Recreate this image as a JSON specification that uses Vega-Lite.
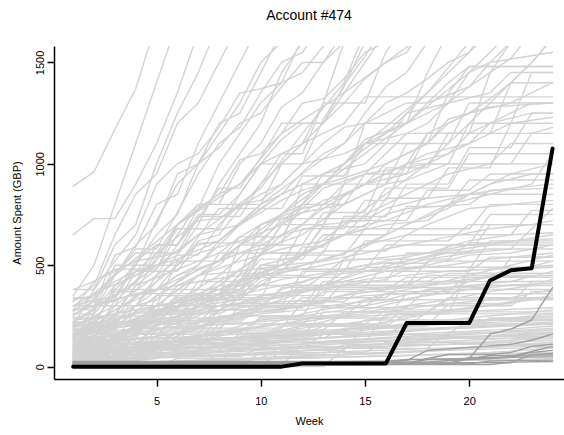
{
"$schema": "https://vega.github.io/schema/vega-lite/v6.json",
"autosize": {"type": "none"},
"width": 510,
"height": 333,
"padding": {"left": 54, "top": 46, "right": 0, "bottom": 56},
"background": "white",
"config": {"view": {"stroke": null}, "font": "Liberation Sans"},
"title": {"text": "Account #474", "fontSize": 14, "fontWeight": "normal", "font": "Liberation Sans", "color": "black", "anchor": "middle", "baseline": "alphabetic", "offset": 12},
"datasets": {
"light": [
{"s":1,"w":1,"v":890},{"s":1,"w":2,"v":960},{"s":1,"w":3,"v":1170},{"s":1,"w":4,"v":1370},{"s":1,"w":5,"v":1700},
{"s":2,"w":1,"v":650},{"s":2,"w":2,"v":730},{"s":2,"w":3,"v":730},{"s":2,"w":4,"v":900},{"s":2,"w":5,"v":1100},{"s":2,"w":6,"v":1350},{"s":2,"w":7,"v":1650},
{"s":3,"w":1,"v":350},{"s":3,"w":2,"v":500},{"s":3,"w":3,"v":800},{"s":3,"w":4,"v":1100},{"s":3,"w":5,"v":1400},{"s":3,"w":6,"v":1700},
{"s":4,"w":1,"v":200},{"s":4,"w":2,"v":380},{"s":4,"w":3,"v":600},{"s":4,"w":4,"v":700},{"s":4,"w":5,"v":1000},{"s":4,"w":6,"v":1250},{"s":4,"w":7,"v":1450},{"s":4,"w":8,"v":1700},
{"s":5,"w":1,"v":120},{"s":5,"w":2,"v":300},{"s":5,"w":3,"v":550},{"s":5,"w":4,"v":590},{"s":5,"w":5,"v":800},{"s":5,"w":6,"v":850},{"s":5,"w":7,"v":1100},{"s":5,"w":8,"v":1300},{"s":5,"w":9,"v":1500},{"s":5,"w":10,"v":1700},
{"s":6,"w":1,"v":300},{"s":6,"w":2,"v":330},{"s":6,"w":3,"v":450},{"s":6,"w":4,"v":600},{"s":6,"w":5,"v":700},{"s":6,"w":6,"v":950},{"s":6,"w":7,"v":1000},{"s":6,"w":8,"v":1200},{"s":6,"w":9,"v":1250},{"s":6,"w":10,"v":1450},{"s":6,"w":11,"v":1650},
{"s":7,"w":1,"v":50},{"s":7,"w":2,"v":200},{"s":7,"w":3,"v":400},{"s":7,"w":4,"v":500},{"s":7,"w":5,"v":720},{"s":7,"w":6,"v":900},{"s":7,"w":7,"v":1000},{"s":7,"w":8,"v":1150},{"s":7,"w":9,"v":1300},{"s":7,"w":10,"v":1500},{"s":7,"w":11,"v":1600},
{"s":8,"w":1,"v":380},{"s":8,"w":2,"v":380},{"s":8,"w":3,"v":520},{"s":8,"w":4,"v":650},{"s":8,"w":5,"v":900},{"s":8,"w":6,"v":1000},{"s":8,"w":7,"v":1050},{"s":8,"w":8,"v":1180},{"s":8,"w":9,"v":1350},{"s":8,"w":10,"v":1370},{"s":8,"w":11,"v":1400},{"s":8,"w":12,"v":1620},
{"s":9,"w":1,"v":150},{"s":9,"w":3,"v":250},{"s":9,"w":4,"v":400},{"s":9,"w":5,"v":480},{"s":9,"w":6,"v":700},{"s":9,"w":7,"v":800},{"s":9,"w":8,"v":800},{"s":9,"w":9,"v":1000},{"s":9,"w":10,"v":1100},{"s":9,"w":11,"v":1280},{"s":9,"w":12,"v":1350},{"s":9,"w":13,"v":1500},{"s":9,"w":14,"v":1650},
{"s":10,"w":1,"v":80},{"s":10,"w":2,"v":150},{"s":10,"w":3,"v":260},{"s":10,"w":4,"v":300},{"s":10,"w":5,"v":420},{"s":10,"w":6,"v":550},{"s":10,"w":7,"v":700},{"s":10,"w":8,"v":900},{"s":10,"w":9,"v":1050},{"s":10,"w":10,"v":1200},{"s":10,"w":11,"v":1450},{"s":10,"w":12,"v":1600},
{"s":11,"w":1,"v":100},{"s":11,"w":2,"v":180},{"s":11,"w":3,"v":200},{"s":11,"w":4,"v":350},{"s":11,"w":5,"v":380},{"s":11,"w":6,"v":500},{"s":11,"w":7,"v":620},{"s":11,"w":8,"v":650},{"s":11,"w":9,"v":780},{"s":11,"w":10,"v":900},{"s":11,"w":11,"v":1000},{"s":11,"w":12,"v":1100},{"s":11,"w":13,"v":1200},{"s":11,"w":14,"v":1350},{"s":11,"w":15,"v":1500},{"s":11,"w":16,"v":1650},
{"s":12,"w":1,"v":250},{"s":12,"w":2,"v":330},{"s":12,"w":3,"v":340},{"s":12,"w":4,"v":520},{"s":12,"w":5,"v":600},{"s":12,"w":6,"v":600},{"s":12,"w":7,"v":780},{"s":12,"w":8,"v":850},{"s":12,"w":9,"v":1020},{"s":12,"w":10,"v":1050},{"s":12,"w":11,"v":1150},{"s":12,"w":12,"v":1300},{"s":12,"w":13,"v":1320},{"s":12,"w":14,"v":1420},{"s":12,"w":15,"v":1550},{"s":12,"w":16,"v":1600},
{"s":13,"w":1,"v":60},{"s":13,"w":2,"v":120},{"s":13,"w":3,"v":220},{"s":13,"w":4,"v":300},{"s":13,"w":5,"v":330},{"s":13,"w":6,"v":420},{"s":13,"w":7,"v":500},{"s":13,"w":8,"v":620},{"s":13,"w":9,"v":700},{"s":13,"w":10,"v":780},{"s":13,"w":11,"v":850},{"s":13,"w":12,"v":960},{"s":13,"w":13,"v":1050},{"s":13,"w":14,"v":1100},{"s":13,"w":15,"v":1250},{"s":13,"w":16,"v":1380},{"s":13,"w":17,"v":1450},{"s":13,"w":18,"v":1600},
{"s":14,"w":1,"v":180},{"s":14,"w":3,"v":180},{"s":14,"w":4,"v":300},{"s":14,"w":5,"v":450},{"s":14,"w":6,"v":600},{"s":14,"w":7,"v":750},{"s":14,"w":8,"v":750},{"s":14,"w":9,"v":850},{"s":14,"w":10,"v":1000},{"s":14,"w":11,"v":1120},{"s":14,"w":12,"v":1200},{"s":14,"w":13,"v":1200},{"s":14,"w":14,"v":1300},{"s":14,"w":15,"v":1420},{"s":14,"w":16,"v":1500},{"s":14,"w":17,"v":1550},{"s":14,"w":18,"v":1700},
{"s":15,"w":1,"v":20},{"s":15,"w":2,"v":80},{"s":15,"w":3,"v":150},{"s":15,"w":4,"v":200},{"s":15,"w":5,"v":300},{"s":15,"w":6,"v":380},{"s":15,"w":7,"v":450},{"s":15,"w":8,"v":500},{"s":15,"w":9,"v":600},{"s":15,"w":10,"v":650},{"s":15,"w":11,"v":750},{"s":15,"w":12,"v":850},{"s":15,"w":13,"v":900},{"s":15,"w":14,"v":1000},{"s":15,"w":15,"v":1100},{"s":15,"w":16,"v":1150},{"s":15,"w":17,"v":1250},{"s":15,"w":18,"v":1350},{"s":15,"w":19,"v":1450},{"s":15,"w":20,"v":1550},{"s":15,"w":21,"v":1650},
{"s":16,"w":1,"v":220},{"s":16,"w":2,"v":280},{"s":16,"w":3,"v":400},{"s":16,"w":4,"v":450},{"s":16,"w":5,"v":500},{"s":16,"w":6,"v":550},{"s":16,"w":7,"v":550},{"s":16,"w":8,"v":700},{"s":16,"w":9,"v":800},{"s":16,"w":10,"v":820},{"s":16,"w":11,"v":900},{"s":16,"w":12,"v":1000},{"s":16,"w":13,"v":1100},{"s":16,"w":14,"v":1180},{"s":16,"w":15,"v":1200},{"s":16,"w":16,"v":1300},{"s":16,"w":17,"v":1350},{"s":16,"w":18,"v":1420},{"s":16,"w":19,"v":1500},{"s":16,"w":20,"v":1550},{"s":16,"w":21,"v":1700},
{"s":17,"w":1,"v":0},{"s":17,"w":2,"v":50},{"s":17,"w":3,"v":100},{"s":17,"w":4,"v":200},{"s":17,"w":5,"v":220},{"s":17,"w":6,"v":300},{"s":17,"w":7,"v":350},{"s":17,"w":8,"v":420},{"s":17,"w":9,"v":480},{"s":17,"w":10,"v":550},{"s":17,"w":11,"v":650},{"s":17,"w":12,"v":700},{"s":17,"w":13,"v":800},{"s":17,"w":14,"v":900},{"s":17,"w":15,"v":950},{"s":17,"w":16,"v":1050},{"s":17,"w":17,"v":1150},{"s":17,"w":18,"v":1200},{"s":17,"w":19,"v":1300},{"s":17,"w":20,"v":1380},{"s":17,"w":21,"v":1450},{"s":17,"w":22,"v":1520},{"s":17,"w":23,"v":1650},
{"s":18,"w":1,"v":130},{"s":18,"w":4,"v":130},{"s":18,"w":5,"v":350},{"s":18,"w":8,"v":350},{"s":18,"w":9,"v":600},{"s":18,"w":11,"v":600},{"s":18,"w":12,"v":900},{"s":18,"w":14,"v":900},{"s":18,"w":15,"v":1200},{"s":18,"w":17,"v":1200},{"s":18,"w":18,"v":1450},{"s":18,"w":19,"v":1650},
{"s":19,"w":1,"v":280},{"s":19,"w":2,"v":420},{"s":19,"w":3,"v":480},{"s":19,"w":5,"v":480},{"s":19,"w":6,"v":650},{"s":19,"w":7,"v":800},{"s":19,"w":10,"v":800},{"s":19,"w":11,"v":1000},{"s":19,"w":12,"v":1100},{"s":19,"w":13,"v":1300},{"s":19,"w":14,"v":1600},
{"s":20,"w":1,"v":40},{"s":20,"w":2,"v":90},{"s":20,"w":4,"v":160},{"s":20,"w":6,"v":400},{"s":20,"w":7,"v":420},{"s":20,"w":9,"v":450},{"s":20,"w":10,"v":700},{"s":20,"w":11,"v":750},{"s":20,"w":12,"v":800},{"s":20,"w":13,"v":950},{"s":20,"w":15,"v":1000},{"s":20,"w":16,"v":1100},{"s":20,"w":17,"v":1250},{"s":20,"w":19,"v":1300},{"s":20,"w":20,"v":1450},{"s":20,"w":21,"v":1500},{"s":20,"w":22,"v":1600},
{"s":21,"w":1,"v":160},{"s":21,"w":2,"v":230},{"s":21,"w":3,"v":350},{"s":21,"w":4,"v":410},{"s":21,"w":5,"v":560},{"s":21,"w":6,"v":700},{"s":21,"w":7,"v":780},{"s":21,"w":8,"v":1000},{"s":21,"w":9,"v":1150},{"s":21,"w":10,"v":1300},{"s":21,"w":11,"v":1400},{"s":21,"w":12,"v":1450},{"s":21,"w":13,"v":1580},{"s":21,"w":14,"v":1700},
{"s":22,"w":1,"v":10},{"s":22,"w":2,"v":30},{"s":22,"w":3,"v":90},{"s":22,"w":5,"v":150},{"s":22,"w":6,"v":250},{"s":22,"w":7,"v":300},{"s":22,"w":9,"v":380},{"s":22,"w":10,"v":500},{"s":22,"w":12,"v":550},{"s":22,"w":13,"v":700},{"s":22,"w":14,"v":850},{"s":22,"w":15,"v":900},{"s":22,"w":16,"v":1000},{"s":22,"w":17,"v":1050},{"s":22,"w":18,"v":1100},{"s":22,"w":19,"v":1200},{"s":22,"w":20,"v":1250},{"s":22,"w":21,"v":1320},{"s":22,"w":22,"v":1400},{"s":22,"w":23,"v":1500},{"s":22,"w":24,"v":1620},
{"s":23,"w":1,"v":70},{"s":23,"w":2,"v":270},{"s":23,"w":3,"v":450},{"s":23,"w":4,"v":580},{"s":23,"w":5,"v":580},{"s":23,"w":6,"v":760},{"s":23,"w":7,"v":950},{"s":23,"w":8,"v":1100},{"s":23,"w":9,"v":1180},{"s":23,"w":10,"v":1350},{"s":23,"w":11,"v":1500},{"s":23,"w":12,"v":1550},{"s":23,"w":13,"v":1700},
{"s":24,"w":1,"v":320},{"s":24,"w":2,"v":400},{"s":24,"w":3,"v":650},{"s":24,"w":4,"v":850},{"s":24,"w":5,"v":950},{"s":24,"w":6,"v":1200},{"s":24,"w":7,"v":1300},{"s":24,"w":8,"v":1500},{"s":24,"w":9,"v":1700},
{"s":25,"w":1,"v":110},{"s":25,"w":2,"v":140},{"s":25,"w":3,"v":330},{"s":25,"w":4,"v":500},{"s":25,"w":5,"v":650},{"s":25,"w":6,"v":750},{"s":25,"w":7,"v":1000},{"s":25,"w":8,"v":1080},{"s":25,"w":9,"v":1200},{"s":25,"w":10,"v":1250},{"s":25,"w":11,"v":1380},{"s":25,"w":12,"v":1500},{"s":25,"w":13,"v":1500},{"s":25,"w":14,"v":1600},
{"s":26,"w":1,"v":200},{"s":26,"w":3,"v":300},{"s":26,"w":5,"v":450},{"s":26,"w":7,"v":600},{"s":26,"w":8,"v":620},{"s":26,"w":10,"v":800},{"s":26,"w":12,"v":950},{"s":26,"w":14,"v":1100},{"s":26,"w":15,"v":1200},{"s":26,"w":17,"v":1300},{"s":26,"w":18,"v":1300},{"s":26,"w":19,"v":1400},{"s":26,"w":20,"v":1480},{"s":26,"w":24,"v":1480},
{"s":27,"w":1,"v":90},{"s":27,"w":2,"v":150},{"s":27,"w":4,"v":300},{"s":27,"w":6,"v":450},{"s":27,"w":7,"v":500},{"s":27,"w":9,"v":700},{"s":27,"w":11,"v":850},{"s":27,"w":12,"v":900},{"s":27,"w":14,"v":1000},{"s":27,"w":16,"v":1150},{"s":27,"w":18,"v":1250},{"s":27,"w":19,"v":1300},{"s":27,"w":21,"v":1350},{"s":27,"w":22,"v":1450},{"s":27,"w":24,"v":1450},
{"s":28,"w":1,"v":300},{"s":28,"w":2,"v":360},{"s":28,"w":4,"v":450},{"s":28,"w":5,"v":520},{"s":28,"w":6,"v":700},{"s":28,"w":8,"v":850},{"s":28,"w":9,"v":900},{"s":28,"w":10,"v":1000},{"s":28,"w":11,"v":1050},{"s":28,"w":13,"v":1150},{"s":28,"w":14,"v":1200},{"s":28,"w":15,"v":1330},{"s":28,"w":24,"v":1330},
{"s":29,"w":1,"v":50},{"s":29,"w":3,"v":120},{"s":29,"w":5,"v":250},{"s":29,"w":6,"v":260},{"s":29,"w":8,"v":400},{"s":29,"w":9,"v":480},{"s":29,"w":11,"v":620},{"s":29,"w":12,"v":700},{"s":29,"w":13,"v":780},{"s":29,"w":15,"v":900},{"s":29,"w":17,"v":1000},{"s":29,"w":18,"v":1150},{"s":29,"w":20,"v":1250},{"s":29,"w":22,"v":1300},{"s":29,"w":24,"v":1400},
{"s":30,"w":1,"v":140},{"s":30,"w":2,"v":190},{"s":30,"w":4,"v":270},{"s":30,"w":5,"v":350},{"s":30,"w":7,"v":480},{"s":30,"w":9,"v":560},{"s":30,"w":10,"v":580},{"s":30,"w":12,"v":650},{"s":30,"w":14,"v":800},{"s":30,"w":16,"v":900},{"s":30,"w":17,"v":1000},{"s":30,"w":19,"v":1050},{"s":30,"w":20,"v":1150},{"s":30,"w":22,"v":1250},{"s":30,"w":23,"v":1300},{"s":30,"w":24,"v":1300},
{"s":31,"w":1,"v":30},{"s":31,"w":2,"v":100},{"s":31,"w":4,"v":180},{"s":31,"w":6,"v":320},{"s":31,"w":8,"v":400},{"s":31,"w":10,"v":550},{"s":31,"w":11,"v":700},{"s":31,"w":13,"v":820},{"s":31,"w":14,"v":850},{"s":31,"w":16,"v":950},{"s":31,"w":18,"v":1050},{"s":31,"w":20,"v":1100},{"s":31,"w":21,"v":1200},{"s":31,"w":23,"v":1250},{"s":31,"w":24,"v":1250},
{"s":32,"w":1,"v":240},{"s":32,"w":2,"v":260},{"s":32,"w":3,"v":380},{"s":32,"w":5,"v":560},{"s":32,"w":7,"v":720},{"s":32,"w":8,"v":730},{"s":32,"w":10,"v":850},{"s":32,"w":11,"v":900},{"s":32,"w":12,"v":1000},{"s":32,"w":14,"v":1050},{"s":32,"w":15,"v":1100},{"s":32,"w":17,"v":1150},{"s":32,"w":24,"v":1150},
{"s":33,"w":1,"v":0},{"s":33,"w":2,"v":40},{"s":33,"w":4,"v":100},{"s":33,"w":5,"v":200},{"s":33,"w":7,"v":300},{"s":33,"w":9,"v":420},{"s":33,"w":11,"v":500},{"s":33,"w":12,"v":560},{"s":33,"w":14,"v":650},{"s":33,"w":15,"v":750},{"s":33,"w":17,"v":850},{"s":33,"w":19,"v":950},{"s":33,"w":21,"v":1000},{"s":33,"w":22,"v":1100},{"s":33,"w":24,"v":1100},
{"s":34,"w":1,"v":180},{"s":34,"w":2,"v":200},{"s":34,"w":3,"v":280},{"s":34,"w":6,"v":430},{"s":34,"w":8,"v":520},{"s":34,"w":9,"v":600},{"s":34,"w":10,"v":700},{"s":34,"w":12,"v":780},{"s":34,"w":13,"v":880},{"s":34,"w":15,"v":950},{"s":34,"w":18,"v":1000},{"s":34,"w":24,"v":1000},
{"s":35,"w":1,"v":60},{"s":35,"w":3,"v":150},{"s":35,"w":5,"v":230},{"s":35,"w":7,"v":350},{"s":35,"w":8,"v":380},{"s":35,"w":10,"v":450},{"s":35,"w":12,"v":550},{"s":35,"w":13,"v":600},{"s":35,"w":15,"v":700},{"s":35,"w":16,"v":720},{"s":35,"w":18,"v":800},{"s":35,"w":20,"v":850},{"s":35,"w":21,"v":900},{"s":35,"w":23,"v":950},{"s":35,"w":24,"v":950},
{"s":36,"w":1,"v":100},{"s":36,"w":2,"v":120},{"s":36,"w":4,"v":200},{"s":36,"w":5,"v":280},{"s":36,"w":7,"v":320},{"s":36,"w":9,"v":400},{"s":36,"w":11,"v":480},{"s":36,"w":12,"v":500},{"s":36,"w":14,"v":560},{"s":36,"w":16,"v":650},{"s":36,"w":17,"v":700},{"s":36,"w":19,"v":780},{"s":36,"w":20,"v":850},{"s":36,"w":22,"v":880},{"s":36,"w":24,"v":900},
{"s":37,"w":1,"v":260},{"s":37,"w":2,"v":300},{"s":37,"w":3,"v":330},{"s":37,"w":5,"v":380},{"s":37,"w":6,"v":450},{"s":37,"w":8,"v":520},{"s":37,"w":10,"v":600},{"s":37,"w":11,"v":650},{"s":37,"w":13,"v":700},{"s":37,"w":15,"v":720},{"s":37,"w":16,"v":780},{"s":37,"w":18,"v":830},{"s":37,"w":20,"v":850},{"s":37,"w":24,"v":850},
{"s":38,"w":1,"v":20},{"s":38,"w":2,"v":60},{"s":38,"w":4,"v":90},{"s":38,"w":6,"v":200},{"s":38,"w":7,"v":300},{"s":38,"w":9,"v":330},{"s":38,"w":10,"v":420},{"s":38,"w":12,"v":500},{"s":38,"w":13,"v":520},{"s":38,"w":15,"v":600},{"s":38,"w":17,"v":650},{"s":38,"w":18,"v":700},{"s":38,"w":20,"v":780},{"s":38,"w":22,"v":800},{"s":38,"w":24,"v":820},
{"s":39,"w":1,"v":380},{"s":39,"w":2,"v":420},{"s":39,"w":4,"v":520},{"s":39,"w":6,"v":560},{"s":39,"w":7,"v":650},{"s":39,"w":9,"v":700},{"s":39,"w":10,"v":800},{"s":39,"w":12,"v":900},{"s":39,"w":14,"v":1000},{"s":39,"w":15,"v":1120},{"s":39,"w":17,"v":1200},{"s":39,"w":18,"v":1300},{"s":39,"w":20,"v":1380},{"s":39,"w":21,"v":1500},{"s":39,"w":24,"v":1550},
{"s":40,"w":1,"v":150},{"s":40,"w":2,"v":220},{"s":40,"w":4,"v":340},{"s":40,"w":6,"v":500},{"s":40,"w":7,"v":560},{"s":40,"w":9,"v":620},{"s":40,"w":11,"v":700},{"s":40,"w":12,"v":780},{"s":40,"w":13,"v":800},{"s":40,"w":15,"v":900},{"s":40,"w":17,"v":950},{"s":40,"w":19,"v":1050},{"s":40,"w":20,"v":1100},{"s":40,"w":22,"v":1200},{"s":40,"w":24,"v":1230},
{"s":41,"w":1,"v":80},{"s":41,"w":2,"v":110},{"s":41,"w":3,"v":200},{"s":41,"w":5,"v":280},{"s":41,"w":6,"v":300},{"s":41,"w":8,"v":380},{"s":41,"w":9,"v":430},{"s":41,"w":11,"v":500},{"s":41,"w":13,"v":600},{"s":41,"w":14,"v":650},{"s":41,"w":16,"v":700},{"s":41,"w":18,"v":720},{"s":41,"w":19,"v":800},{"s":41,"w":21,"v":850},{"s":41,"w":23,"v":900},{"s":41,"w":24,"v":1050},
{"s":42,"w":1,"v":210},{"s":42,"w":3,"v":260},{"s":42,"w":4,"v":400},{"s":42,"w":6,"v":480},{"s":42,"w":8,"v":560},{"s":42,"w":9,"v":640},{"s":42,"w":10,"v":700},{"s":42,"w":12,"v":760},{"s":42,"w":14,"v":800},{"s":42,"w":16,"v":900},{"s":42,"w":17,"v":920},{"s":42,"w":19,"v":1000},{"s":42,"w":22,"v":1000},{"s":42,"w":23,"v":1150},{"s":42,"w":24,"v":1180},
{"s":43,"w":1,"v":0},{"s":43,"w":3,"v":20},{"s":43,"w":5,"v":80},{"s":43,"w":6,"v":150},{"s":43,"w":8,"v":230},{"s":43,"w":10,"v":300},{"s":43,"w":11,"v":380},{"s":43,"w":13,"v":450},{"s":43,"w":14,"v":530},{"s":43,"w":16,"v":650},{"s":43,"w":18,"v":750},{"s":43,"w":19,"v":800},{"s":43,"w":21,"v":900},{"s":43,"w":22,"v":950},{"s":43,"w":24,"v":1000},
{"s":44,"w":1,"v":120},{"s":44,"w":2,"v":180},{"s":44,"w":5,"v":260},{"s":44,"w":6,"v":350},{"s":44,"w":7,"v":450},{"s":44,"w":9,"v":520},{"s":44,"w":11,"v":580},{"s":44,"w":13,"v":620},{"s":44,"w":15,"v":680},{"s":44,"w":16,"v":750},{"s":44,"w":17,"v":780},{"s":44,"w":20,"v":800},{"s":44,"w":21,"v":870},{"s":44,"w":24,"v":880},
{"s":45,"w":1,"v":330},{"s":45,"w":2,"v":350},{"s":45,"w":3,"v":420},{"s":45,"w":4,"v":470},{"s":45,"w":6,"v":530},{"s":45,"w":8,"v":620},{"s":45,"w":9,"v":700},{"s":45,"w":11,"v":820},{"s":45,"w":12,"v":870},{"s":45,"w":14,"v":930},{"s":45,"w":16,"v":1000},{"s":45,"w":18,"v":1100},{"s":45,"w":19,"v":1220},{"s":45,"w":21,"v":1280},{"s":45,"w":24,"v":1300},
{"s":46,"w":1,"v":40},{"s":46,"w":3,"v":80},{"s":46,"w":5,"v":130},{"s":46,"w":7,"v":200},{"s":46,"w":9,"v":270},{"s":46,"w":11,"v":330},{"s":46,"w":13,"v":400},{"s":46,"w":15,"v":470},{"s":46,"w":17,"v":520},{"s":46,"w":19,"v":570},{"s":46,"w":21,"v":600},{"s":46,"w":24,"v":650},
{"s":47,"w":1,"v":150},{"s":47,"w":2,"v":170},{"s":47,"w":4,"v":210},{"s":47,"w":6,"v":250},{"s":47,"w":8,"v":300},{"s":47,"w":10,"v":330},{"s":47,"w":12,"v":380},{"s":47,"w":14,"v":420},{"s":47,"w":16,"v":470},{"s":47,"w":18,"v":500},{"s":47,"w":20,"v":550},{"s":47,"w":22,"v":560},{"s":47,"w":24,"v":600},
{"s":48,"w":1,"v":60},{"s":48,"w":2,"v":130},{"s":48,"w":4,"v":180},{"s":48,"w":5,"v":230},{"s":48,"w":8,"v":280},{"s":48,"w":10,"v":350},{"s":48,"w":12,"v":380},{"s":48,"w":13,"v":450},{"s":48,"w":16,"v":480},{"s":48,"w":18,"v":530},{"s":48,"w":20,"v":560},{"s":48,"w":22,"v":580},{"s":48,"w":24,"v":780},
{"s":49,"w":1,"v":230},{"s":49,"w":2,"v":240},{"s":49,"w":4,"v":280},{"s":49,"w":6,"v":320},{"s":49,"w":8,"v":340},{"s":49,"w":10,"v":400},{"s":49,"w":11,"v":430},{"s":49,"w":13,"v":460},{"s":49,"w":15,"v":500},{"s":49,"w":17,"v":520},{"s":49,"w":19,"v":560},{"s":49,"w":21,"v":580},{"s":49,"w":24,"v":580},
{"s":50,"w":1,"v":10},{"s":50,"w":2,"v":30},{"s":50,"w":4,"v":60},{"s":50,"w":6,"v":100},{"s":50,"w":8,"v":150},{"s":50,"w":10,"v":200},{"s":50,"w":12,"v":260},{"s":50,"w":14,"v":300},{"s":50,"w":16,"v":360},{"s":50,"w":18,"v":400},{"s":50,"w":20,"v":450},{"s":50,"w":22,"v":500},{"s":50,"w":24,"v":550},
{"s":51,"w":1,"v":100},{"s":51,"w":3,"v":130},{"s":51,"w":5,"v":180},{"s":51,"w":7,"v":250},{"s":51,"w":8,"v":300},{"s":51,"w":10,"v":320},{"s":51,"w":12,"v":370},{"s":51,"w":14,"v":400},{"s":51,"w":16,"v":430},{"s":51,"w":17,"v":480},{"s":51,"w":19,"v":500},{"s":51,"w":21,"v":530},{"s":51,"w":24,"v":560},
{"s":52,"w":1,"v":180},{"s":52,"w":2,"v":200},{"s":52,"w":4,"v":220},{"s":52,"w":6,"v":280},{"s":52,"w":8,"v":300},{"s":52,"w":9,"v":350},{"s":52,"w":11,"v":360},{"s":52,"w":13,"v":380},{"s":52,"w":15,"v":430},{"s":52,"w":17,"v":450},{"s":52,"w":19,"v":470},{"s":52,"w":21,"v":480},{"s":52,"w":24,"v":500},
{"s":53,"w":1,"v":0},{"s":53,"w":2,"v":10},{"s":53,"w":5,"v":40},{"s":53,"w":7,"v":80},{"s":53,"w":9,"v":130},{"s":53,"w":11,"v":180},{"s":53,"w":13,"v":220},{"s":53,"w":15,"v":280},{"s":53,"w":17,"v":330},{"s":53,"w":19,"v":380},{"s":53,"w":20,"v":420},{"s":53,"w":22,"v":470},{"s":53,"w":24,"v":520},
{"s":54,"w":1,"v":90},{"s":54,"w":2,"v":100},{"s":54,"w":4,"v":140},{"s":54,"w":6,"v":160},{"s":54,"w":8,"v":220},{"s":54,"w":10,"v":260},{"s":54,"w":12,"v":280},{"s":54,"w":14,"v":310},{"s":54,"w":16,"v":330},{"s":54,"w":18,"v":380},{"s":54,"w":20,"v":400},{"s":54,"w":22,"v":420},{"s":54,"w":24,"v":470},
{"s":55,"w":1,"v":70},{"s":55,"w":3,"v":90},{"s":55,"w":5,"v":110},{"s":55,"w":7,"v":150},{"s":55,"w":9,"v":180},{"s":55,"w":11,"v":210},{"s":55,"w":13,"v":250},{"s":55,"w":15,"v":270},{"s":55,"w":17,"v":300},{"s":55,"w":19,"v":330},{"s":55,"w":21,"v":370},{"s":55,"w":23,"v":400},{"s":55,"w":24,"v":430},
{"s":56,"w":1,"v":130},{"s":56,"w":2,"v":150},{"s":56,"w":3,"v":190},{"s":56,"w":5,"v":220},{"s":56,"w":7,"v":230},{"s":56,"w":9,"v":260},{"s":56,"w":11,"v":280},{"s":56,"w":13,"v":320},{"s":56,"w":15,"v":350},{"s":56,"w":17,"v":360},{"s":56,"w":19,"v":390},{"s":56,"w":21,"v":400},{"s":56,"w":24,"v":410},
{"s":57,"w":1,"v":20},{"s":57,"w":2,"v":50},{"s":57,"w":4,"v":100},{"s":57,"w":6,"v":120},{"s":57,"w":8,"v":170},{"s":57,"w":10,"v":200},{"s":57,"w":12,"v":220},{"s":57,"w":14,"v":250},{"s":57,"w":16,"v":270},{"s":57,"w":18,"v":300},{"s":57,"w":20,"v":320},{"s":57,"w":22,"v":340},{"s":57,"w":24,"v":380},
{"s":58,"w":1,"v":50},{"s":58,"w":2,"v":60},{"s":58,"w":4,"v":80},{"s":58,"w":6,"v":110},{"s":58,"w":8,"v":130},{"s":58,"w":10,"v":160},{"s":58,"w":12,"v":190},{"s":58,"w":14,"v":210},{"s":58,"w":16,"v":240},{"s":58,"w":18,"v":260},{"s":58,"w":20,"v":290},{"s":58,"w":22,"v":320},{"s":58,"w":24,"v":350},
{"s":59,"w":1,"v":280},{"s":59,"w":2,"v":300},{"s":59,"w":4,"v":360},{"s":59,"w":6,"v":400},{"s":59,"w":7,"v":450},{"s":59,"w":9,"v":470},{"s":59,"w":11,"v":500},{"s":59,"w":13,"v":520},{"s":59,"w":15,"v":560},{"s":59,"w":17,"v":600},{"s":59,"w":19,"v":640},{"s":59,"w":21,"v":680},{"s":59,"w":23,"v":700},{"s":59,"w":24,"v":720},
{"s":60,"w":1,"v":160},{"s":60,"w":2,"v":190},{"s":60,"w":4,"v":230},{"s":60,"w":5,"v":300},{"s":60,"w":7,"v":330},{"s":60,"w":9,"v":380},{"s":60,"w":10,"v":450},{"s":60,"w":12,"v":480},{"s":60,"w":14,"v":520},{"s":60,"w":16,"v":540},{"s":60,"w":18,"v":560},{"s":60,"w":20,"v":620},{"s":60,"w":22,"v":650},{"s":60,"w":24,"v":660},
{"s":61,"w":1,"v":110},{"s":61,"w":2,"v":120},{"s":61,"w":3,"v":170},{"s":61,"w":5,"v":200},{"s":61,"w":7,"v":260},{"s":61,"w":9,"v":290},{"s":61,"w":11,"v":320},{"s":61,"w":13,"v":330},{"s":61,"w":15,"v":380},{"s":61,"w":17,"v":400},{"s":61,"w":19,"v":420},{"s":61,"w":21,"v":440},{"s":61,"w":24,"v":450},
{"s":62,"w":1,"v":30},{"s":62,"w":3,"v":50},{"s":62,"w":5,"v":90},{"s":62,"w":6,"v":140},{"s":62,"w":8,"v":170},{"s":62,"w":10,"v":230},{"s":62,"w":12,"v":250},{"s":62,"w":14,"v":280},{"s":62,"w":16,"v":320},{"s":62,"w":18,"v":350},{"s":62,"w":20,"v":380},{"s":62,"w":22,"v":400},{"s":62,"w":24,"v":400},
{"s":63,"w":1,"v":200},{"s":63,"w":2,"v":210},{"s":63,"w":4,"v":260},{"s":63,"w":6,"v":290},{"s":63,"w":8,"v":330},{"s":63,"w":10,"v":380},{"s":63,"w":12,"v":420},{"s":63,"w":14,"v":480},{"s":63,"w":16,"v":520},{"s":63,"w":18,"v":560},{"s":63,"w":20,"v":600},{"s":63,"w":22,"v":620},{"s":63,"w":24,"v":630},
{"s":64,"w":1,"v":0},{"s":64,"w":3,"v":20},{"s":64,"w":5,"v":50},{"s":64,"w":7,"v":60},{"s":64,"w":9,"v":90},{"s":64,"w":11,"v":120},{"s":64,"w":13,"v":160},{"s":64,"w":15,"v":200},{"s":64,"w":17,"v":240},{"s":64,"w":19,"v":280},{"s":64,"w":21,"v":300},{"s":64,"w":23,"v":330},{"s":64,"w":24,"v":340},
{"s":65,"w":1,"v":140},{"s":65,"w":2,"v":140},{"s":65,"w":4,"v":170},{"s":65,"w":6,"v":200},{"s":65,"w":8,"v":240},{"s":65,"w":10,"v":270},{"s":65,"w":12,"v":300},{"s":65,"w":14,"v":350},{"s":65,"w":16,"v":380},{"s":65,"w":18,"v":400},{"s":65,"w":20,"v":420},{"s":65,"w":22,"v":480},{"s":65,"w":24,"v":490},
{"s":66,"w":1,"v":0},{"s":66,"w":4,"v":10},{"s":66,"w":8,"v":30},{"s":66,"w":12,"v":50},{"s":66,"w":16,"v":70},{"s":66,"w":20,"v":90},{"s":66,"w":24,"v":110},
{"s":67,"w":1,"v":20},{"s":67,"w":4,"v":40},{"s":67,"w":8,"v":60},{"s":67,"w":12,"v":80},{"s":67,"w":16,"v":110},{"s":67,"w":20,"v":130},{"s":67,"w":24,"v":150},
{"s":68,"w":1,"v":40},{"s":68,"w":4,"v":60},{"s":68,"w":8,"v":90},{"s":68,"w":12,"v":110},{"s":68,"w":16,"v":140},{"s":68,"w":20,"v":160},{"s":68,"w":24,"v":180},
{"s":69,"w":1,"v":60},{"s":69,"w":4,"v":70},{"s":69,"w":8,"v":100},{"s":69,"w":12,"v":130},{"s":69,"w":16,"v":170},{"s":69,"w":20,"v":200},{"s":69,"w":24,"v":220},
{"s":70,"w":1,"v":80},{"s":70,"w":4,"v":100},{"s":70,"w":8,"v":120},{"s":70,"w":12,"v":150},{"s":70,"w":16,"v":190},{"s":70,"w":20,"v":220},{"s":70,"w":24,"v":250},
{"s":71,"w":1,"v":100},{"s":71,"w":4,"v":110},{"s":71,"w":8,"v":140},{"s":71,"w":12,"v":160},{"s":71,"w":16,"v":200},{"s":71,"w":20,"v":240},{"s":71,"w":24,"v":280},
{"s":72,"w":1,"v":5},{"s":72,"w":3,"v":15},{"s":72,"w":7,"v":25},{"s":72,"w":11,"v":40},{"s":72,"w":15,"v":50},{"s":72,"w":19,"v":60},{"s":72,"w":24,"v":70},
{"s":73,"w":1,"v":10},{"s":73,"w":5,"v":20},{"s":73,"w":9,"v":35},{"s":73,"w":13,"v":45},{"s":73,"w":17,"v":55},{"s":73,"w":21,"v":70},{"s":73,"w":24,"v":90},
{"s":74,"w":1,"v":30},{"s":74,"w":5,"v":45},{"s":74,"w":9,"v":55},{"s":74,"w":13,"v":70},{"s":74,"w":17,"v":85},{"s":74,"w":21,"v":100},{"s":74,"w":24,"v":120},
{"s":75,"w":1,"v":50},{"s":75,"w":3,"v":55},{"s":75,"w":7,"v":75},{"s":75,"w":11,"v":95},{"s":75,"w":15,"v":120},{"s":75,"w":19,"v":140},{"s":75,"w":24,"v":160},
{"s":76,"w":1,"v":120},{"s":76,"w":3,"v":130},{"s":76,"w":7,"v":150},{"s":76,"w":11,"v":170},{"s":76,"w":15,"v":190},{"s":76,"w":19,"v":210},{"s":76,"w":24,"v":230},
{"s":77,"w":1,"v":70},{"s":77,"w":5,"v":85},{"s":77,"w":9,"v":110},{"s":77,"w":13,"v":125},{"s":77,"w":17,"v":150},{"s":77,"w":21,"v":170},{"s":77,"w":24,"v":190},
{"s":78,"w":1,"v":15},{"s":78,"w":6,"v":25},{"s":78,"w":10,"v":45},{"s":78,"w":14,"v":60},{"s":78,"w":18,"v":80},{"s":78,"w":22,"v":100},{"s":78,"w":24,"v":100},
{"s":79,"w":1,"v":35},{"s":79,"w":6,"v":50},{"s":79,"w":10,"v":65},{"s":79,"w":14,"v":90},{"s":79,"w":18,"v":105},{"s":79,"w":22,"v":120},{"s":79,"w":24,"v":130},
{"s":80,"w":1,"v":90},{"s":80,"w":6,"v":105},{"s":80,"w":10,"v":125},{"s":80,"w":14,"v":145},{"s":80,"w":18,"v":165},{"s":80,"w":22,"v":185},{"s":80,"w":24,"v":200},
{"s":81,"w":1,"v":170},{"s":81,"w":3,"v":180},{"s":81,"w":7,"v":200},{"s":81,"w":11,"v":230},{"s":81,"w":15,"v":250},{"s":81,"w":19,"v":270},{"s":81,"w":24,"v":290},
{"s":82,"w":1,"v":0},{"s":82,"w":6,"v":5},{"s":82,"w":12,"v":15},{"s":82,"w":18,"v":25},{"s":82,"w":24,"v":40},
{"s":83,"w":1,"v":3},{"s":83,"w":6,"v":10},{"s":83,"w":12,"v":20},{"s":83,"w":18,"v":35},{"s":83,"w":24,"v":55},
{"s":84,"w":1,"v":25},{"s":84,"w":3,"v":40},{"s":84,"w":6,"v":60},{"s":84,"w":10,"v":80},{"s":84,"w":14,"v":100},{"s":84,"w":18,"v":130},{"s":84,"w":22,"v":160},{"s":84,"w":24,"v":170},
{"s":85,"w":1,"v":55},{"s":85,"w":3,"v":70},{"s":85,"w":6,"v":90},{"s":85,"w":10,"v":120},{"s":85,"w":14,"v":150},{"s":85,"w":18,"v":180},{"s":85,"w":22,"v":200},{"s":85,"w":24,"v":210},
{"s":86,"w":1,"v":75},{"s":86,"w":3,"v":90},{"s":86,"w":6,"v":120},{"s":86,"w":10,"v":150},{"s":86,"w":14,"v":180},{"s":86,"w":18,"v":210},{"s":86,"w":22,"v":240},{"s":86,"w":24,"v":260},
{"s":87,"w":1,"v":45},{"s":87,"w":4,"v":55},{"s":87,"w":7,"v":70},{"s":87,"w":10,"v":85},{"s":87,"w":13,"v":95},{"s":87,"w":16,"v":100},{"s":87,"w":19,"v":110},{"s":87,"w":22,"v":130},{"s":87,"w":24,"v":140},
{"s":88,"w":1,"v":12},{"s":88,"w":4,"v":20},{"s":88,"w":7,"v":30},{"s":88,"w":10,"v":40},{"s":88,"w":13,"v":55},{"s":88,"w":16,"v":65},{"s":88,"w":19,"v":80},{"s":88,"w":22,"v":90},{"s":88,"w":24,"v":95},
{"s":89,"w":1,"v":65},{"s":89,"w":4,"v":80},{"s":89,"w":7,"v":95},{"s":89,"w":10,"v":105},{"s":89,"w":13,"v":115},{"s":89,"w":16,"v":130},{"s":89,"w":19,"v":145},{"s":89,"w":22,"v":155},{"s":89,"w":24,"v":165},
{"s":90,"w":1,"v":110},{"s":90,"w":4,"v":120},{"s":90,"w":7,"v":135},{"s":90,"w":10,"v":145},{"s":90,"w":13,"v":160},{"s":90,"w":16,"v":175},{"s":90,"w":19,"v":190},{"s":90,"w":22,"v":205},{"s":90,"w":24,"v":210},
{"s":91,"w":1,"v":0},{"s":91,"w":3,"v":0},{"s":91,"w":4,"v":120},{"s":91,"w":7,"v":120},{"s":91,"w":8,"v":250},{"s":91,"w":12,"v":250},{"s":91,"w":13,"v":400},{"s":91,"w":17,"v":400},{"s":91,"w":18,"v":520},{"s":91,"w":24,"v":520},
{"s":92,"w":1,"v":200},{"s":92,"w":5,"v":200},{"s":92,"w":6,"v":330},{"s":92,"w":9,"v":330},{"s":92,"w":10,"v":480},{"s":92,"w":15,"v":480},{"s":92,"w":16,"v":600},{"s":92,"w":20,"v":600},{"s":92,"w":21,"v":750},{"s":92,"w":24,"v":750},
{"s":93,"w":1,"v":60},{"s":93,"w":2,"v":60},{"s":93,"w":3,"v":210},{"s":93,"w":6,"v":210},{"s":93,"w":7,"v":300},{"s":93,"w":11,"v":300},{"s":93,"w":12,"v":470},{"s":93,"w":14,"v":470},{"s":93,"w":15,"v":620},{"s":93,"w":19,"v":620},{"s":93,"w":20,"v":700},{"s":93,"w":24,"v":700},
{"s":94,"w":1,"v":150},{"s":94,"w":4,"v":150},{"s":94,"w":5,"v":260},{"s":94,"w":8,"v":260},{"s":94,"w":9,"v":310},{"s":94,"w":13,"v":310},{"s":94,"w":14,"v":420},{"s":94,"w":18,"v":420},{"s":94,"w":19,"v":460},{"s":94,"w":24,"v":460},
{"s":95,"w":1,"v":30},{"s":95,"w":3,"v":30},{"s":95,"w":4,"v":170},{"s":95,"w":9,"v":170},{"s":95,"w":10,"v":240},{"s":95,"w":16,"v":240},{"s":95,"w":17,"v":360},{"s":95,"w":24,"v":360},
{"s":96,"w":1,"v":260},{"s":96,"w":2,"v":260},{"s":96,"w":3,"v":380},{"s":96,"w":7,"v":380},{"s":96,"w":8,"v":560},{"s":96,"w":10,"v":560},{"s":96,"w":11,"v":700},{"s":96,"w":13,"v":700},{"s":96,"w":14,"v":900},{"s":96,"w":16,"v":900},{"s":96,"w":17,"v":1100},{"s":96,"w":19,"v":1100},{"s":96,"w":20,"v":1300},{"s":96,"w":24,"v":1300},
{"s":97,"w":1,"v":90},{"s":97,"w":6,"v":90},{"s":97,"w":7,"v":330},{"s":97,"w":10,"v":330},{"s":97,"w":11,"v":550},{"s":97,"w":14,"v":550},{"s":97,"w":15,"v":680},{"s":97,"w":20,"v":680},{"s":97,"w":21,"v":800},{"s":97,"w":24,"v":800},
{"s":98,"w":1,"v":0},{"s":98,"w":8,"v":0},{"s":98,"w":9,"v":150},{"s":98,"w":12,"v":150},{"s":98,"w":13,"v":270},{"s":98,"w":18,"v":270},{"s":98,"w":19,"v":340},{"s":98,"w":24,"v":340},
{"s":99,"w":1,"v":120},{"s":99,"w":3,"v":120},{"s":99,"w":4,"v":280},{"s":99,"w":6,"v":280},{"s":99,"w":7,"v":420},{"s":99,"w":9,"v":420},{"s":99,"w":10,"v":600},{"s":99,"w":12,"v":600},{"s":99,"w":13,"v":760},{"s":99,"w":15,"v":760},{"s":99,"w":16,"v":980},{"s":99,"w":18,"v":980},{"s":99,"w":19,"v":1150},{"s":99,"w":21,"v":1150},{"s":99,"w":22,"v":1400},{"s":99,"w":24,"v":1400},
{"s":100,"w":1,"v":40},{"s":100,"w":4,"v":40},{"s":100,"w":5,"v":110},{"s":100,"w":10,"v":110},{"s":100,"w":11,"v":200},{"s":100,"w":16,"v":200},{"s":100,"w":17,"v":260},{"s":100,"w":24,"v":260},
{"s":101,"w":1,"v":180},{"s":101,"w":2,"v":180},{"s":101,"w":3,"v":300},{"s":101,"w":5,"v":300},{"s":101,"w":6,"v":520},{"s":101,"w":8,"v":520},{"s":101,"w":9,"v":640},{"s":101,"w":11,"v":640},{"s":101,"w":12,"v":800},{"s":101,"w":14,"v":800},{"s":101,"w":15,"v":950},{"s":101,"w":17,"v":950},{"s":101,"w":18,"v":1150},{"s":101,"w":20,"v":1150},{"s":101,"w":21,"v":1450},{"s":101,"w":22,"v":1600},
{"s":102,"w":1,"v":70},{"s":102,"w":5,"v":70},{"s":102,"w":6,"v":190},{"s":102,"w":11,"v":190},{"s":102,"w":12,"v":320},{"s":102,"w":14,"v":320},{"s":102,"w":15,"v":390},{"s":102,"w":21,"v":390},{"s":102,"w":22,"v":540},{"s":102,"w":24,"v":540},
{"s":103,"w":1,"v":10},{"s":103,"w":2,"v":10},{"s":103,"w":3,"v":80},{"s":103,"w":8,"v":80},{"s":103,"w":9,"v":140},{"s":103,"w":13,"v":140},{"s":103,"w":14,"v":190},{"s":103,"w":20,"v":190},{"s":103,"w":21,"v":240},{"s":103,"w":24,"v":240},
{"s":104,"w":1,"v":240},{"s":104,"w":3,"v":240},{"s":104,"w":4,"v":360},{"s":104,"w":8,"v":360},{"s":104,"w":9,"v":450},{"s":104,"w":12,"v":450},{"s":104,"w":13,"v":570},{"s":104,"w":16,"v":570},{"s":104,"w":17,"v":650},{"s":104,"w":22,"v":650},{"s":104,"w":23,"v":770},{"s":104,"w":24,"v":770},
{"s":105,"w":1,"v":50},{"s":105,"w":3,"v":50},{"s":105,"w":4,"v":230},{"s":105,"w":6,"v":230},{"s":105,"w":7,"v":360},{"s":105,"w":9,"v":360},{"s":105,"w":10,"v":500},{"s":105,"w":11,"v":500},{"s":105,"w":12,"v":680},{"s":105,"w":14,"v":680},{"s":105,"w":15,"v":820},{"s":105,"w":16,"v":820},{"s":105,"w":17,"v":1000},{"s":105,"w":19,"v":1000},{"s":105,"w":20,"v":1200},{"s":105,"w":22,"v":1200},{"s":105,"w":23,"v":1450},{"s":105,"w":24,"v":1450},
{"s":106,"w":1,"v":100},{"s":106,"w":7,"v":100},{"s":106,"w":8,"v":210},{"s":106,"w":12,"v":210},{"s":106,"w":13,"v":290},{"s":106,"w":17,"v":290},{"s":106,"w":18,"v":380},{"s":106,"w":24,"v":380},
{"s":107,"w":1,"v":0},{"s":107,"w":2,"v":0},{"s":107,"w":3,"v":60},{"s":107,"w":5,"v":60},{"s":107,"w":6,"v":130},{"s":107,"w":9,"v":130},{"s":107,"w":10,"v":250},{"s":107,"w":14,"v":250},{"s":107,"w":15,"v":330},{"s":107,"w":19,"v":330},{"s":107,"w":20,"v":440},{"s":107,"w":24,"v":440},
{"s":108,"w":1,"v":170},{"s":108,"w":4,"v":170},{"s":108,"w":5,"v":240},{"s":108,"w":9,"v":240},{"s":108,"w":10,"v":350},{"s":108,"w":13,"v":350},{"s":108,"w":14,"v":530},{"s":108,"w":19,"v":530},{"s":108,"w":20,"v":610},{"s":108,"w":24,"v":610},
{"s":109,"w":1,"v":20},{"s":109,"w":4,"v":20},{"s":109,"w":5,"v":90},{"s":109,"w":12,"v":90},{"s":109,"w":13,"v":160},{"s":109,"w":19,"v":160},{"s":109,"w":20,"v":230},{"s":109,"w":24,"v":230},
{"s":110,"w":1,"v":140},{"s":110,"w":2,"v":220},{"s":110,"w":3,"v":370},{"s":110,"w":4,"v":370},{"s":110,"w":5,"v":540},{"s":110,"w":6,"v":680},{"s":110,"w":8,"v":680},{"s":110,"w":9,"v":850},{"s":110,"w":10,"v":1000},{"s":110,"w":12,"v":1000},{"s":110,"w":13,"v":1220},{"s":110,"w":14,"v":1380},{"s":110,"w":15,"v":1600},
{"s":111,"w":1,"v":80},{"s":111,"w":3,"v":80},{"s":111,"w":4,"v":160},{"s":111,"w":7,"v":160},{"s":111,"w":8,"v":280},{"s":111,"w":10,"v":280},{"s":111,"w":11,"v":390},{"s":111,"w":15,"v":390},{"s":111,"w":16,"v":510},{"s":111,"w":18,"v":510},{"s":111,"w":19,"v":600},{"s":111,"w":24,"v":600},
{"s":112,"w":1,"v":300},{"s":112,"w":3,"v":300},{"s":112,"w":4,"v":470},{"s":112,"w":6,"v":470},{"s":112,"w":7,"v":610},{"s":112,"w":10,"v":610},{"s":112,"w":11,"v":730},{"s":112,"w":15,"v":730},{"s":112,"w":16,"v":880},{"s":112,"w":19,"v":880},{"s":112,"w":20,"v":1050},{"s":112,"w":24,"v":1050},
{"s":113,"w":1,"v":5},{"s":113,"w":9,"v":5},{"s":113,"w":10,"v":70},{"s":113,"w":15,"v":70},{"s":113,"w":16,"v":120},{"s":113,"w":22,"v":120},{"s":113,"w":23,"v":180},{"s":113,"w":24,"v":180},
{"s":114,"w":1,"v":190},{"s":114,"w":2,"v":250},{"s":114,"w":5,"v":250},{"s":114,"w":6,"v":350},{"s":114,"w":9,"v":350},{"s":114,"w":10,"v":440},{"s":114,"w":14,"v":440},{"s":114,"w":15,"v":490},{"s":114,"w":24,"v":490},
{"s":115,"w":1,"v":60},{"s":115,"w":2,"v":110},{"s":115,"w":4,"v":110},{"s":115,"w":5,"v":210},{"s":115,"w":7,"v":210},{"s":115,"w":8,"v":330},{"s":115,"w":9,"v":460},{"s":115,"w":11,"v":460},{"s":115,"w":12,"v":590},{"s":115,"w":13,"v":590},{"s":115,"w":14,"v":720},{"s":115,"w":17,"v":720},{"s":115,"w":18,"v":870},{"s":115,"w":20,"v":870},{"s":115,"w":21,"v":950},{"s":115,"w":24,"v":950},
{"s":116,"w":1,"v":0},{"s":116,"w":5,"v":0},{"s":116,"w":6,"v":40},{"s":116,"w":10,"v":40},{"s":116,"w":11,"v":100},{"s":116,"w":17,"v":100},{"s":116,"w":18,"v":150},{"s":116,"w":24,"v":150},
{"s":117,"w":1,"v":220},{"s":117,"w":4,"v":220},{"s":117,"w":5,"v":300},{"s":117,"w":7,"v":300},{"s":117,"w":8,"v":400},{"s":117,"w":13,"v":400},{"s":117,"w":14,"v":470},{"s":117,"w":20,"v":470},{"s":117,"w":21,"v":540},{"s":117,"w":24,"v":540},
{"s":118,"w":1,"v":130},{"s":118,"w":3,"v":130},{"s":118,"w":4,"v":190},{"s":118,"w":8,"v":190},{"s":118,"w":9,"v":270},{"s":118,"w":11,"v":270},{"s":118,"w":12,"v":340},{"s":118,"w":16,"v":340},{"s":118,"w":17,"v":420},{"s":118,"w":24,"v":420},
{"s":119,"w":1,"v":35},{"s":119,"w":2,"v":35},{"s":119,"w":3,"v":140},{"s":119,"w":5,"v":140},{"s":119,"w":6,"v":300},{"s":119,"w":7,"v":380},{"s":119,"w":9,"v":380},{"s":119,"w":10,"v":560},{"s":119,"w":12,"v":560},{"s":119,"w":13,"v":690},{"s":119,"w":15,"v":690},{"s":119,"w":16,"v":830},{"s":119,"w":18,"v":830},{"s":119,"w":19,"v":980},{"s":119,"w":21,"v":980},{"s":119,"w":22,"v":1200},{"s":119,"w":24,"v":1200},
{"s":120,"w":1,"v":160},{"s":120,"w":6,"v":160},{"s":120,"w":7,"v":230},{"s":120,"w":9,"v":230},{"s":120,"w":10,"v":300},{"s":120,"w":15,"v":300},{"s":120,"w":16,"v":360},{"s":120,"w":24,"v":360},
{"s":121,"w":1,"v":15},{"s":121,"w":7,"v":15},{"s":121,"w":8,"v":60},{"s":121,"w":13,"v":60},{"s":121,"w":14,"v":110},{"s":121,"w":24,"v":110},
{"s":122,"w":1,"v":250},{"s":122,"w":2,"v":320},{"s":122,"w":3,"v":320},{"s":122,"w":4,"v":420},{"s":122,"w":5,"v":600},{"s":122,"w":6,"v":600},{"s":122,"w":7,"v":730},{"s":122,"w":8,"v":880},{"s":122,"w":9,"v":880},{"s":122,"w":10,"v":1030},{"s":122,"w":11,"v":1200},{"s":122,"w":13,"v":1200},{"s":122,"w":14,"v":1390},{"s":122,"w":15,"v":1530},{"s":122,"w":16,"v":1700},
{"s":123,"w":1,"v":100},{"s":123,"w":2,"v":100},{"s":123,"w":3,"v":220},{"s":123,"w":9,"v":220},{"s":123,"w":10,"v":290},{"s":123,"w":12,"v":290},{"s":123,"w":13,"v":370},{"s":123,"w":19,"v":370},{"s":123,"w":20,"v":460},{"s":123,"w":24,"v":460},
{"s":124,"w":1,"v":45},{"s":124,"w":6,"v":45},{"s":124,"w":7,"v":130},{"s":124,"w":11,"v":130},{"s":124,"w":12,"v":210},{"s":124,"w":16,"v":210},{"s":124,"w":17,"v":300},{"s":124,"w":22,"v":300},{"s":124,"w":23,"v":370},{"s":124,"w":24,"v":370},
{"s":125,"w":1,"v":0},{"s":125,"w":10,"v":0},{"s":125,"w":11,"v":80},{"s":125,"w":14,"v":80},{"s":125,"w":15,"v":200},{"s":125,"w":18,"v":200},{"s":125,"w":19,"v":310},{"s":125,"w":22,"v":310},{"s":125,"w":23,"v":420},{"s":125,"w":24,"v":420},
{"s":126,"w":1,"v":190},{"s":126,"w":3,"v":190},{"s":126,"w":4,"v":270},{"s":126,"w":7,"v":270},{"s":126,"w":8,"v":340},{"s":126,"w":11,"v":340},{"s":126,"w":12,"v":400},{"s":126,"w":17,"v":400},{"s":126,"w":18,"v":450},{"s":126,"w":24,"v":450},
{"s":127,"w":1,"v":75},{"s":127,"w":4,"v":75},{"s":127,"w":5,"v":180},{"s":127,"w":8,"v":180},{"s":127,"w":9,"v":300},{"s":127,"w":12,"v":300},{"s":127,"w":13,"v":420},{"s":127,"w":16,"v":420},{"s":127,"w":17,"v":560},{"s":127,"w":20,"v":560},{"s":127,"w":21,"v":700},{"s":127,"w":24,"v":700},
{"s":128,"w":1,"v":110},{"s":128,"w":5,"v":110},{"s":128,"w":6,"v":170},{"s":128,"w":14,"v":170},{"s":128,"w":15,"v":230},{"s":128,"w":24,"v":230},
{"s":129,"w":1,"v":280},{"s":129,"w":2,"v":280},{"s":129,"w":3,"v":500},{"s":129,"w":6,"v":500},{"s":129,"w":7,"v":640},{"s":129,"w":8,"v":780},{"s":129,"w":11,"v":780},{"s":129,"w":12,"v":940},{"s":129,"w":14,"v":940},{"s":129,"w":15,"v":1100},{"s":129,"w":18,"v":1100},{"s":129,"w":19,"v":1350},{"s":129,"w":20,"v":1480},{"s":129,"w":24,"v":1480},
{"s":130,"w":1,"v":25},{"s":130,"w":3,"v":25},{"s":130,"w":4,"v":90},{"s":130,"w":7,"v":90},{"s":130,"w":8,"v":180},{"s":130,"w":13,"v":180},{"s":130,"w":14,"v":270},{"s":130,"w":18,"v":270},{"s":130,"w":19,"v":330},{"s":130,"w":24,"v":330},
{"s":131,"w":1,"v":55},{"s":131,"w":2,"v":55},{"s":131,"w":3,"v":100},{"s":131,"w":6,"v":100},{"s":131,"w":7,"v":160},{"s":131,"w":12,"v":160},{"s":131,"w":13,"v":200},{"s":131,"w":17,"v":200},{"s":131,"w":18,"v":270},{"s":131,"w":24,"v":270},
{"s":132,"w":1,"v":0},{"s":132,"w":11,"v":0},{"s":132,"w":12,"v":120},{"s":132,"w":15,"v":120},{"s":132,"w":16,"v":260},{"s":132,"w":19,"v":260},{"s":132,"w":20,"v":480},{"s":132,"w":21,"v":620},{"s":132,"w":24,"v":620},
{"s":133,"w":1,"v":130},{"s":133,"w":2,"v":170},{"s":133,"w":4,"v":170},{"s":133,"w":5,"v":270},{"s":133,"w":8,"v":270},{"s":133,"w":9,"v":420},{"s":133,"w":10,"v":560},{"s":133,"w":13,"v":560},{"s":133,"w":14,"v":740},{"s":133,"w":16,"v":740},{"s":133,"w":17,"v":900},{"s":133,"w":19,"v":900},{"s":133,"w":20,"v":1080},{"s":133,"w":22,"v":1080},{"s":133,"w":23,"v":1250},{"s":133,"w":24,"v":1250},
{"s":134,"w":1,"v":95},{"s":134,"w":8,"v":95},{"s":134,"w":9,"v":160},{"s":134,"w":16,"v":160},{"s":134,"w":17,"v":210},{"s":134,"w":24,"v":210},
{"s":135,"w":1,"v":210},{"s":135,"w":4,"v":210},{"s":135,"w":5,"v":280},{"s":135,"w":11,"v":280},{"s":135,"w":12,"v":380},{"s":135,"w":16,"v":380},{"s":135,"w":17,"v":440},{"s":135,"w":24,"v":440},
{"s":136,"w":1,"v":0},{"s":136,"w":13,"v":0},{"s":136,"w":14,"v":90},{"s":136,"w":18,"v":90},{"s":136,"w":19,"v":170},{"s":136,"w":24,"v":170},
{"s":137,"w":1,"v":65},{"s":137,"w":2,"v":160},{"s":137,"w":4,"v":160},{"s":137,"w":5,"v":240},{"s":137,"w":6,"v":340},{"s":137,"w":8,"v":340},{"s":137,"w":9,"v":410},{"s":137,"w":10,"v":530},{"s":137,"w":12,"v":530},{"s":137,"w":13,"v":650},{"s":137,"w":16,"v":650},{"s":137,"w":17,"v":790},{"s":137,"w":19,"v":790},{"s":137,"w":20,"v":920},{"s":137,"w":24,"v":920},
{"s":138,"w":1,"v":340},{"s":138,"w":2,"v":340},{"s":138,"w":3,"v":460},{"s":138,"w":4,"v":560},{"s":138,"w":6,"v":560},{"s":138,"w":7,"v":740},{"s":138,"w":9,"v":740},{"s":138,"w":10,"v":900},{"s":138,"w":11,"v":1050},{"s":138,"w":12,"v":1050},{"s":138,"w":13,"v":1300},{"s":138,"w":15,"v":1300},{"s":138,"w":16,"v":1550},{"s":138,"w":17,"v":1700},
{"s":139,"w":1,"v":15},{"s":139,"w":3,"v":15},{"s":139,"w":4,"v":50},{"s":139,"w":9,"v":50},{"s":139,"w":10,"v":95},{"s":139,"w":16,"v":95},{"s":139,"w":17,"v":140},{"s":139,"w":24,"v":140},
{"s":140,"w":1,"v":85},{"s":140,"w":3,"v":85},{"s":140,"w":4,"v":140},{"s":140,"w":10,"v":140},{"s":140,"w":11,"v":210},{"s":140,"w":15,"v":210},{"s":140,"w":16,"v":280},{"s":140,"w":20,"v":280},{"s":140,"w":21,"v":340},{"s":140,"w":24,"v":340},
{"s":141,"w":1,"v":150},{"s":141,"w":5,"v":300},{"s":141,"w":9,"v":600},{"s":141,"w":13,"v":900},{"s":141,"w":17,"v":1200},{"s":141,"w":20,"v":1450},{"s":141,"w":22,"v":1650},
{"s":142,"w":1,"v":40},{"s":142,"w":4,"v":200},{"s":142,"w":8,"v":450},{"s":142,"w":12,"v":800},{"s":142,"w":15,"v":1100},{"s":142,"w":18,"v":1350},{"s":142,"w":20,"v":1600},
{"s":143,"w":1,"v":270},{"s":143,"w":3,"v":450},{"s":143,"w":6,"v":700},{"s":143,"w":9,"v":900},{"s":143,"w":11,"v":1150},{"s":143,"w":14,"v":1350},{"s":143,"w":16,"v":1500},{"s":143,"w":18,"v":1650},
{"s":144,"w":1,"v":0},{"s":144,"w":6,"v":150},{"s":144,"w":10,"v":400},{"s":144,"w":14,"v":700},{"s":144,"w":18,"v":1000},{"s":144,"w":21,"v":1300},{"s":144,"w":23,"v":1500},{"s":144,"w":24,"v":1620},
{"s":145,"w":1,"v":220},{"s":145,"w":4,"v":420},{"s":145,"w":7,"v":650},{"s":145,"w":10,"v":880},{"s":145,"w":12,"v":1150},{"s":145,"w":14,"v":1400},{"s":145,"w":15,"v":1650}
],
"dark": [
{"s":1,"w":1,"v":15},{"s":1,"w":19,"v":15},{"s":1,"w":20,"v":40},{"s":1,"w":21,"v":160},{"s":1,"w":22,"v":185},{"s":1,"w":23,"v":230},{"s":1,"w":24,"v":390},
{"s":2,"w":1,"v":20},{"s":2,"w":16,"v":20},{"s":2,"w":17,"v":30},{"s":2,"w":18,"v":80},{"s":2,"w":20,"v":95},{"s":2,"w":22,"v":110},{"s":2,"w":23,"v":130},{"s":2,"w":24,"v":160},
{"s":3,"w":1,"v":12},{"s":3,"w":17,"v":12},{"s":3,"w":18,"v":40},{"s":3,"w":19,"v":60},{"s":3,"w":21,"v":60},{"s":3,"w":22,"v":70},{"s":3,"w":23,"v":100},{"s":3,"w":24,"v":110},
{"s":4,"w":1,"v":18},{"s":4,"w":17,"v":18},{"s":4,"w":18,"v":35},{"s":4,"w":21,"v":40},{"s":4,"w":22,"v":50},{"s":4,"w":24,"v":100},
{"s":5,"w":1,"v":22},{"s":5,"w":18,"v":22},{"s":5,"w":19,"v":30},{"s":5,"w":22,"v":45},{"s":5,"w":23,"v":70},{"s":5,"w":24,"v":80},
{"s":6,"w":1,"v":14},{"s":6,"w":20,"v":14},{"s":6,"w":21,"v":28},{"s":6,"w":24,"v":32},
{"s":7,"w":1,"v":25},{"s":7,"w":16,"v":25},{"s":7,"w":17,"v":35},{"s":7,"w":20,"v":38},{"s":7,"w":21,"v":55},{"s":7,"w":24,"v":58},
{"s":8,"w":1,"v":16},{"s":8,"w":19,"v":16},{"s":8,"w":20,"v":45},{"s":8,"w":24,"v":48},
{"s":9,"w":1,"v":10},{"s":9,"w":21,"v":10},{"s":9,"w":22,"v":22},{"s":9,"w":24,"v":25},
{"s":10,"w":1,"v":19},{"s":10,"w":22,"v":19},{"s":10,"w":23,"v":60},{"s":10,"w":24,"v":65}
],
"acct": [
{"w":1,"v":0},{"w":11,"v":0},{"w":12,"v":15},{"w":16,"v":15},{"w":17,"v":215},{"w":20,"v":215},{"w":21,"v":425},{"w":22,"v":475},{"w":23,"v":485},{"w":24,"v":1075}
]
},
"encoding": {
"x": {"field": "w", "type": "quantitative", "scale": {"domain": [0.08, 24.55], "nice": false, "zero": false},
 "axis": {"title": "Week", "values": [5, 10, 15, 20], "grid": false, "domain": true, "domainColor": "black", "domainWidth": 1.5, "tickColor": "black", "tickWidth": 1.5, "tickSize": 7, "labelFontSize": 11, "labelColor": "black", "labelFont": "Liberation Sans", "labelPadding": 9, "titleFontSize": 11, "titleFontWeight": "normal", "titleColor": "black", "titleFont": "Liberation Sans", "titlePadding": 9}},
"y": {"field": "v", "type": "quantitative", "scale": {"domain": [-61, 1581], "nice": false, "zero": false},
 "axis": {"title": "Amount Spent (GBP)", "values": [0, 500, 1000, 1500], "format": "d", "grid": false, "domain": true, "domainColor": "black", "domainWidth": 1.5, "tickColor": "black", "tickWidth": 1.5, "tickSize": 7, "labelFontSize": 11, "labelColor": "black", "labelFont": "Liberation Sans", "labelAngle": -90, "labelAlign": "center", "labelBaseline": "bottom", "labelPadding": 2, "titleFontSize": 11, "titleFontWeight": "normal", "titleColor": "black", "titleFont": "Liberation Sans", "titlePadding": 12}}
},
"layer": [
{"data": {"name": "light"}, "mark": {"type": "line", "color": "#d3d3d3", "strokeWidth": 1.4, "clip": true, "strokeCap": "round", "strokeJoin": "round"}, "encoding": {"detail": {"field": "s", "type": "nominal"}}},
{"data": {"name": "dark"}, "mark": {"type": "line", "color": "#a0a0a0", "strokeWidth": 1.4, "clip": true, "strokeCap": "round", "strokeJoin": "round"}, "encoding": {"detail": {"field": "s", "type": "nominal"}}},
{"data": {"name": "acct"}, "mark": {"type": "line", "color": "black", "strokeWidth": 4, "clip": true, "strokeCap": "round", "strokeJoin": "round"}, "encoding": {}},
{"data": {"values": [{"t": 1}]}, "mark": {"type": "rule", "color": "black", "strokeWidth": 1.5}, "encoding": {"y": {"datum": 1581}, "x": {"datum": 0.08}, "x2": {"datum": 24.55}}}
]
}
